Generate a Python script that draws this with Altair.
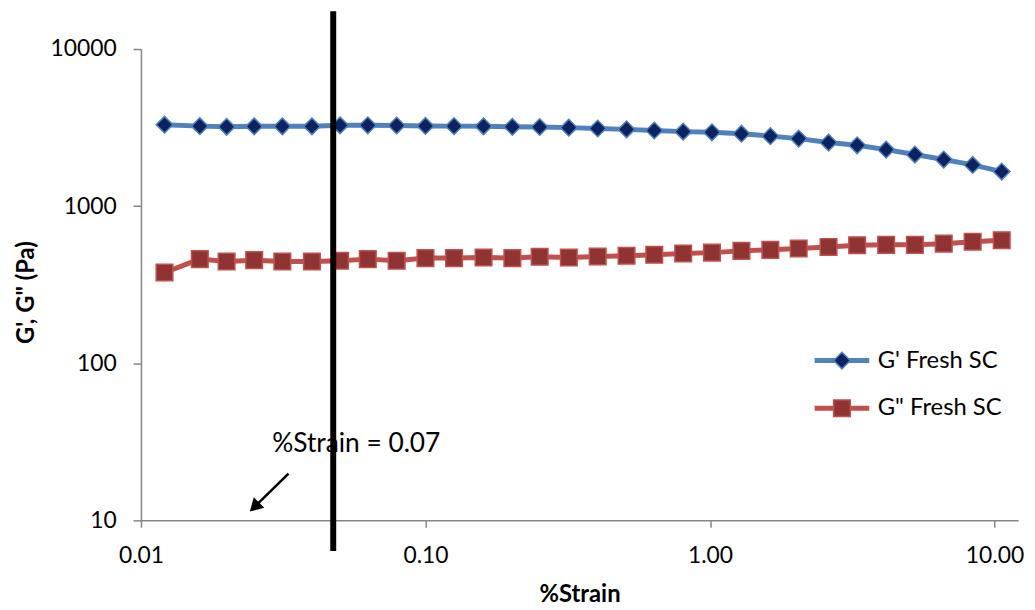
import altair as alt
import pandas as pd

# ---- data ----
strain = [0.0121, 0.0161, 0.0200, 0.0250, 0.0314, 0.0399, 0.0501, 0.0627, 0.0792, 0.100,
          0.126, 0.160, 0.202, 0.252, 0.319, 0.403, 0.509, 0.637, 0.805, 1.016,
          1.29, 1.63, 2.05, 2.61, 3.29, 4.16, 5.25, 6.63, 8.38, 10.6]
g_prime = [3300, 3230, 3200, 3220, 3220, 3220, 3270, 3270, 3260, 3240,
           3230, 3220, 3200, 3190, 3160, 3120, 3080, 3030, 2980, 2950,
           2890, 2790, 2690, 2540, 2440, 2290, 2130, 1980, 1830, 1660]
g_double = [378, 460, 444, 453, 444, 444, 449, 460, 449, 467,
            467, 471, 467, 476, 471, 478, 483, 490, 499, 506,
            519, 527, 537, 550, 564, 567, 567, 577, 594, 607]
series_names = ["G' Fresh SC", 'G" Fresh SC']
x_ticks = [0.01, 0.1, 1, 10]
y_ticks = [10, 100, 1000, 10000]
marker_strain = [0.0474]
annotation = ["%Strain = 0.07"]

line_colors = ["#4F81BD", "#C0504D"]
fill_colors = ["#0B2361", "#8F3432"]
shapes = ["diamond", "square"]

rows = []
for s, a, b in zip(strain, g_prime, g_double):
    rows.append({"strain": s, "modulus": a, "series": series_names[0], "series2": series_names[0]})
    rows.append({"strain": s, "modulus": b, "series": series_names[1], "series2": series_names[1]})
df = pd.DataFrame(rows)

FONT = "Lato"

x_enc = alt.X("strain:Q",
              scale=alt.Scale(type="log", domain=[0.01, 12.1], nice=False),
              axis=alt.Axis(values=x_ticks, format=".2f", title="%Strain",
                            titleX=442, titleY=75, titleAlign="center", titleBaseline="middle",
                            labelPadding=18, tickSize=7, labelFlush=False))
y_enc = alt.Y("modulus:Q",
              scale=alt.Scale(type="log", domain=[10, 10000], nice=False),
              axis=alt.Axis(values=y_ticks, format="d", title='G\', G" (Pa)',
                            titleX=-115, titleY=245, titleAngle=270, titleAlign="center",
                            titleBaseline="middle", labelPadding=17, tickSize=8, labelFlush=False))

legend_common = dict(orient="none", legendX=694.5, legendY=302, title=None,
                     labelFont=FONT, labelFontSize=24, labelColor="black",
                     labelOffset=24, rowPadding=24, padding=0, symbolSize=280)

base = alt.Chart(df)

lines = base.mark_line(strokeWidth=5).encode(
    x=x_enc, y=y_enc,
    color=alt.Color("series:N", scale=alt.Scale(domain=series_names, range=line_colors),
                    legend=alt.Legend(symbolType="M-3.29,0L3.29,0", symbolStrokeWidth=5,
                                      labelOpacity=0, **legend_common)),
)

pts_legend = alt.Legend(symbolStrokeWidth=1.5, **legend_common)
points = base.mark_point(filled=True, size=280, strokeWidth=1.5, opacity=1).encode(
    x=x_enc, y=y_enc,
    fill=alt.Fill("series2:N", scale=alt.Scale(domain=series_names, range=fill_colors), legend=pts_legend),
    stroke=alt.Stroke("series2:N", scale=alt.Scale(domain=series_names, range=line_colors), legend=pts_legend),
    shape=alt.Shape("series2:N", scale=alt.Scale(domain=series_names, range=shapes), legend=pts_legend),
)

vline = alt.Chart(pd.DataFrame({"strain": marker_strain})).mark_rule(
    strokeWidth=6, color="black", clip=False).encode(
    x=alt.X("strain:Q"), y=alt.value(-38), y2=alt.value(506))

ann_df = pd.DataFrame({"label": annotation})
ann_text = alt.Chart(ann_df).mark_text(font=FONT, fontSize=26.5, align="center",
                                       baseline="middle", color="black").encode(
    text="label:N", x=alt.value(217), y=alt.value(398))
arrow_shaft = alt.Chart(ann_df).mark_rule(strokeWidth=2.5, color="black").encode(
    x=alt.value(148.7), y=alt.value(428), x2=alt.value(116), y2=alt.value(460))
arrow_head = alt.Chart(ann_df).mark_point(shape="triangle", filled=True, size=225,
                                          angle=225, color="black", opacity=1).encode(
    x=alt.value(115.9), y=alt.value(460.1))

chart = alt.layer(lines, points, vline, ann_text, arrow_shaft, arrow_head).resolve_legend(
    color="independent", fill="independent", stroke="independent", shape="independent"
).properties(
    width=884, height=475,
    autosize=alt.AutoSizeParams(type="none"),
    padding={"left": 134, "top": 39, "right": 9, "bottom": 86},
    background="white",
).configure_view(stroke=None).configure_axis(
    grid=False, domainColor="#868686", domainWidth=1.5, tickColor="#868686", tickWidth=1.5,
    labelFont=FONT, labelFontSize=23, labelColor="black",
    titleFont=FONT, titleFontSize=24, titleFontWeight="bold", titleColor="black",
)

chart.save("out.html", embed_options={"renderer": "svg", "actions": False})
